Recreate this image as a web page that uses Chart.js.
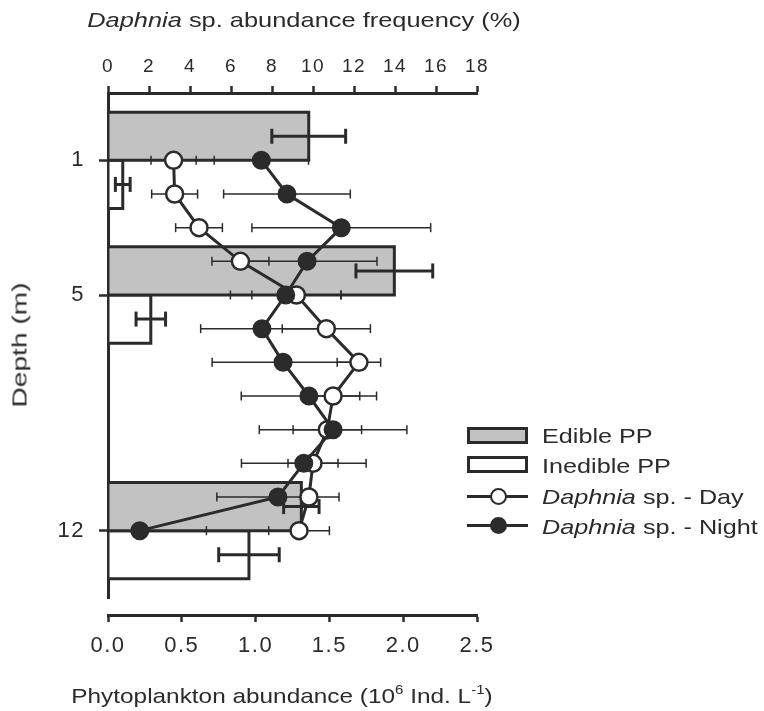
<!DOCTYPE html>
<html>
<head>
<meta charset="utf-8">
<script src="https://cdn.jsdelivr.net/npm/chart.js@4.4.1/dist/chart.umd.min.js"></script>
<style>
  html, body { margin: 0; padding: 0; background: #ffffff; }
  #wrap { position: relative; width: 764px; height: 711px; overflow: hidden;
          font-family: 'Liberation Sans', Arial, sans-serif; color: #2b2b2b; }
  #chart { position: absolute; left: 0; top: 0; }
  .txt { position: absolute; white-space: nowrap; font-size: 21px; line-height: 21px; }
  .txt sup { font-size: 13px; line-height: 0; vertical-align: 9px; }
  .sym { position: absolute; box-sizing: border-box; }
</style>
</head>
<body>
<div id="wrap">
  <canvas id="chart" width="764" height="711"></canvas>

  <div class="txt" id="topTitle" style="left:304px; top:9px; transform: translateX(-50%) scaleX(1.21);"><i>Daphnia</i> sp. abundance frequency (%)</div>
  <div class="txt" id="bottomTitle" style="left:282px; top:685px; transform: translateX(-50%) scaleX(1.16);">Phytoplankton abundance (10<sup>6</sup> Ind. L<sup>-1</sup>)</div>
  <div class="txt" id="leftTitle" style="left:19px; top:345px; transform: translate(-50%,-50%) rotate(-90deg) scaleX(1.34);">Depth (m)</div>

  <!-- legend -->
  <div class="sym" style="left:467px; top:427px; width:61px; height:17px; border:3px solid #2b2b2b; background:#c2c2c2;"></div>
  <div class="txt" style="left:542px; top:424.5px; transform-origin: 0 50%; transform: scaleX(1.2);">Edible PP</div>

  <div class="sym" style="left:467px; top:456px; width:61px; height:17px; border:3px solid #2b2b2b; background:#ffffff;"></div>
  <div class="txt" style="left:542px; top:455px; transform-origin: 0 50%; transform: scaleX(1.2);">Inedible PP</div>

  <div class="sym" style="left:467px; top:494.5px; width:61px; height:3px; background:#2b2b2b;"></div>
  <div class="sym" style="left:489.5px; top:487.5px; width:17px; height:17px; border:2.5px solid #2b2b2b; border-radius:50%; background:#ffffff;"></div>
  <div class="txt" style="left:542px; top:486.2px; transform-origin: 0 50%; transform: scaleX(1.2);"><i>Daphnia</i> sp. - Day</div>

  <div class="sym" style="left:467px; top:523.5px; width:61px; height:3px; background:#2b2b2b;"></div>
  <div class="sym" style="left:489.5px; top:516.5px; width:17px; height:17px; border:2.5px solid #2b2b2b; border-radius:50%; background:#2b2b2b;"></div>
  <div class="txt" style="left:542px; top:515.5px; transform-origin: 0 50%; transform: scaleX(1.2);"><i>Daphnia</i> sp. - Night</div>
</div>

<script>
// ===================== DATA =====================
const depths = [1, 2, 3, 4, 5, 6, 7, 8, 9, 10, 11, 12];                 // m
const daphniaDay      = [3.2, 3.25, 4.44, 6.46, 9.19, 10.65, 12.24, 10.98, 10.7, 10.0, 9.8, 9.32];  // %
const daphniaDayErr   = [1.1, 1.12, 1.14, 1.39, 2.17, 2.15, 1.06, 1.3, 1.67, 1.22, 0.35, 1.48];
const daphniaNight    = [7.48, 8.73, 11.38, 9.71, 8.67, 7.51, 8.54, 9.8, 10.98, 9.55, 8.29, 1.55];
const daphniaNightErr = [2.3, 3.09, 4.36, 3.41, 2.7, 2.99, 3.46, 3.3, 3.6, 3.04, 2.98, 3.25];

const ppDepths      = [1, 5, 12];                 // m
const ediblePP      = [1.36, 1.94, 1.31];         // 10^6 Ind. L-1
const ediblePPErr   = [0.25, 0.26, 0.12];
const inediblePP    = [0.10, 0.29, 0.955];
const inediblePPErr = [0.05, 0.10, 0.205];

const depthTicks   = [1, 5, 12];
const phytoTicks   = [0, 0.5, 1, 1.5, 2, 2.5];
const daphniaTicks = [0, 2, 4, 6, 8, 10, 12, 14, 16, 18];

// ===================== STYLE / LAYOUT =====================
const DARK = '#2b2b2b';
const FONT = "'Liberation Sans', Arial, sans-serif";
const BAR_SPAN = 1.43;      // bar thickness in depth units
const ERR_OFFSET = 0.715;   // bar error bars sit at bar middle
const AXIS_GAP = 17;        // gap between depth axis end and bottom axis

function rectData(values, ds, dir) {
  const out = [];
  values.forEach((v, i) => {
    const a = dir < 0 ? ds[i] - BAR_SPAN : ds[i];
    const b = dir < 0 ? ds[i] : ds[i] + BAR_SPAN;
    out.push({x: 0, y: a}, {x: v, y: a}, {x: v, y: b}, {x: 0, y: b}, {x: 0, y: a}, {x: 0, y: null});
  });
  return out;
}
function errData(values, errs, ys) {
  const out = [];
  values.forEach((v, i) => {
    out.push({x: v - errs[i], y: ys[i]}, {x: v + errs[i], y: ys[i]}, {x: v + errs[i], y: null});
  });
  return out;
}

const shiftBottomAxis = {
  id: 'shiftBottomAxis',
  afterLayout(chart) {
    const s = chart.scales.x;
    s.top += AXIS_GAP;
    s.bottom += AXIS_GAP;
  },
  beforeDraw(chart) {
    // slightly wider tick lettering, like the reference
    if ('letterSpacing' in chart.ctx) chart.ctx.letterSpacing = '1.5px';
  }
};

const errStyle = (axis, w, r) => ({
  xAxisID: axis, yAxisID: 'y', borderColor: DARK, borderWidth: w, fill: false, spanGaps: false,
  pointStyle: 'line', pointRotation: 90, pointRadius: r, pointBorderWidth: w,
  pointBorderColor: DARK, pointBackgroundColor: DARK, tension: 0
});

new Chart(document.getElementById('chart'), {
  type: 'line',
  data: {
    datasets: [
      {
        label: 'Daphnia sp. - Night',
        data: depths.map((d, i) => ({x: daphniaNight[i], y: d})),
        xAxisID: 'x2', yAxisID: 'y', borderColor: DARK, borderWidth: 3, fill: false, tension: 0,
        pointRadius: 8.5, pointBackgroundColor: DARK, pointBorderColor: DARK, pointBorderWidth: 2
      },
      {
        label: 'Daphnia sp. - Day',
        data: depths.map((d, i) => ({x: daphniaDay[i], y: d})),
        xAxisID: 'x2', yAxisID: 'y', borderColor: DARK, borderWidth: 3, fill: false, tension: 0,
        pointRadius: 8.5, pointBackgroundColor: '#ffffff', pointBorderColor: DARK, pointBorderWidth: 2.5
      },
      Object.assign({label: 'Night SE', data: errData(daphniaNight, daphniaNightErr, depths)}, errStyle('x2', 1.5, 4.5)),
      Object.assign({label: 'Day SE', data: errData(daphniaDay, daphniaDayErr, depths)}, errStyle('x2', 1.5, 4.5)),
      Object.assign({label: 'Edible PP SE', data: errData(ediblePP, ediblePPErr, ppDepths.map(d => d - ERR_OFFSET))}, errStyle('x', 3, 7.5)),
      Object.assign({label: 'Inedible PP SE', data: errData(inediblePP, inediblePPErr, ppDepths.map(d => d + ERR_OFFSET))}, errStyle('x', 3, 7.5)),
      {
        label: 'Edible PP',
        data: rectData(ediblePP, ppDepths, -1),
        xAxisID: 'x', yAxisID: 'y', fill: 'shape', backgroundColor: '#c2c2c2',
        borderColor: DARK, borderWidth: 3, pointRadius: 0, spanGaps: false, tension: 0,
        borderJoinStyle: 'miter'
      },
      {
        label: 'Inedible PP',
        data: rectData(inediblePP, ppDepths, 1),
        xAxisID: 'x', yAxisID: 'y', fill: 'shape', backgroundColor: '#ffffff',
        borderColor: DARK, borderWidth: 3, pointRadius: 0, spanGaps: false, tension: 0,
        borderJoinStyle: 'miter'
      }
    ]
  },
  options: {
    responsive: false,
    animation: false,
    events: [],
    layout: { padding: { top: 0, left: 0, right: 287, bottom: 0 } },
    plugins: { legend: { display: false }, tooltip: { enabled: false }, title: { display: false } },
    scales: {
      x: {
        type: 'linear', position: 'bottom', min: 0, max: 2.5,
        afterBuildTicks: s => { s.ticks = phytoTicks.map(v => ({value: v})); },
        afterFit: s => { s.height = 113; },
        ticks: { callback: v => Number(v).toFixed(1), color: DARK, font: {family: FONT, size: 22}, padding: 11, maxRotation: 0, autoSkip: false },
        grid: { display: true, drawOnChartArea: false, drawTicks: true, tickLength: 7, tickWidth: 2.5, tickColor: DARK, color: DARK },
        border: { display: true, color: DARK, width: 3 },
        title: { display: false }
      },
      x2: {
        type: 'linear', position: 'top', min: 0, max: 18,
        afterBuildTicks: s => { s.ticks = daphniaTicks.map(v => ({value: v})); },
        afterFit: s => { s.height = 93; },
        ticks: { color: DARK, font: {family: FONT, size: 19}, padding: 8, maxRotation: 0, autoSkip: false },
        grid: { display: true, drawOnChartArea: false, drawTicks: true, tickLength: 7, tickWidth: 2.5, tickColor: DARK, color: DARK },
        border: { display: true, color: DARK, width: 3 },
        title: { display: false }
      },
      y: {
        type: 'linear', position: 'left', reverse: true, min: -1, max: 14,
        afterBuildTicks: s => { s.ticks = depthTicks.map(v => ({value: v})); },
        afterFit: s => { s.width = 108; },
        ticks: { color: DARK, font: {family: FONT, size: 22}, padding: 14, autoSkip: false },
        grid: { display: true, drawOnChartArea: false, drawTicks: true, tickLength: 9, tickWidth: 2.5, tickColor: DARK, color: DARK },
        border: { display: true, color: DARK, width: 3 },
        title: { display: false }
      }
    }
  },
  plugins: [shiftBottomAxis]
});
</script>
</body>
</html>
